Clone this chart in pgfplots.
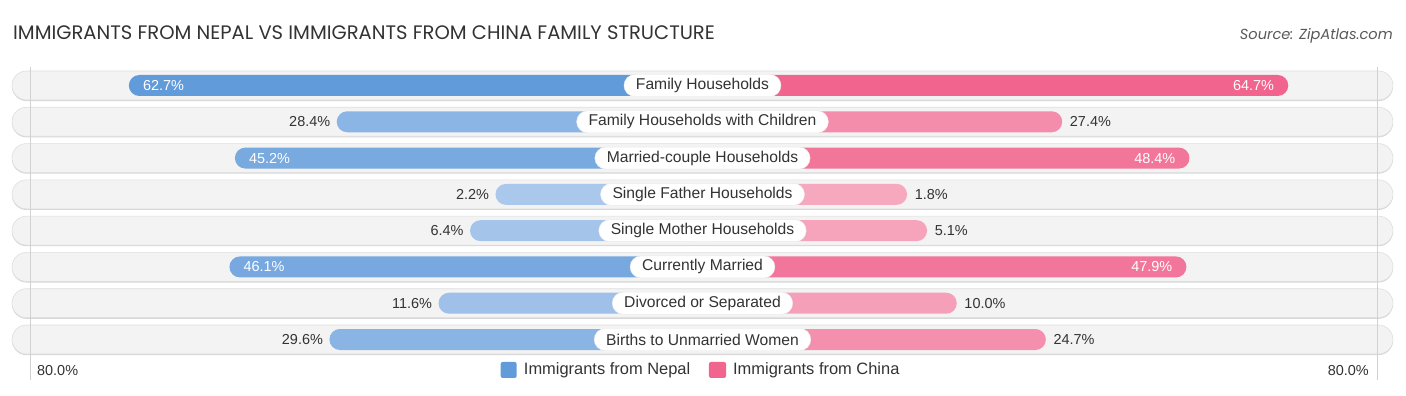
\documentclass[border=0pt]{standalone}
\usepackage{pgfplots}
\pgfplotsset{compat=1.18}
\usepackage{pgfplotstable}
\usepackage{fontspec}
\setmainfont{Liberation Sans}
\newfontfamily\titlefont{Poppins}

\definecolor{nepD}{RGB}{98,155,218}
\definecolor{nepL}{RGB}{172,201,236}
\definecolor{chiD}{RGB}{240,100,142}
\definecolor{chiL}{RGB}{246,170,192}
\colorlet{nep0}{nepD!100!nepL}
\colorlet{nep1}{nepD!44!nepL}
\colorlet{nep2}{nepD!70!nepL}
\colorlet{nep3}{nepD!3!nepL}
\colorlet{nep4}{nepD!10!nepL}
\colorlet{nep5}{nepD!71!nepL}
\colorlet{nep6}{nepD!18!nepL}
\colorlet{nep7}{nepD!46!nepL}
\colorlet{chi0}{chiD!100!chiL}
\colorlet{chi1}{chiD!42!chiL}
\colorlet{chi2}{chiD!75!chiL}
\colorlet{chi3}{chiD!3!chiL}
\colorlet{chi4}{chiD!8!chiL}
\colorlet{chi5}{chiD!74!chiL}
\colorlet{chi6}{chiD!15!chiL}
\colorlet{chi7}{chiD!38!chiL}
\definecolor{txt}{RGB}{51,51,51}
\definecolor{bgc}{RGB}{243,243,243}
\definecolor{bgline}{RGB}{222,222,222}
\definecolor{bgshadow}{RGB}{214,214,214}

\def\off{31.96}

\pgfplotstableread{
row v
0 62.7
1 28.4
2 45.2
3 2.2
4 6.4
5 46.1
6 11.6
7 29.6
}\nepal

\pgfplotstableread{
row v
0 64.7
1 27.4
2 48.4
3 1.8
4 5.1
5 47.9
6 10.0
7 24.7
}\china

\begin{document}
\begin{tikzpicture}[
  lbl/.style={fill=white, draw=black!8, rounded corners=11bp, inner xsep=12bp, inner ysep=0pt,
              minimum height=22bp, text=txt, font=\fontsize{15.7}{16}\selectfont},
  val/.style={text=txt, font=\fontsize{14.5}{15}\selectfont, inner sep=0pt},
  vin/.style={text=white, font=\fontsize{14.5}{15}\selectfont, inner sep=0pt}
]
\begin{axis}[
  hide axis,
  scale only axis,
  width=1406bp, height=395bp,
  xmin=-115.92, xmax=116.09,
  ymin=-2.356, ymax=8.5295,
  y dir=reverse,
  clip=false,
]
% full-size bounding box
\path (rel axis cs:0,0) rectangle (rel axis cs:1,1);
% row backgrounds
\pgfplotsinvokeforeach{0,...,7}{
  \fill[bgshadow, rounded corners=14.5bp] (axis cs:-113.94,#1-0.37) rectangle (axis cs:113.94,#1+0.43);
  \draw[fill=bgc, draw=bgline, line width=0.6bp, rounded corners=14.5bp] (axis cs:-113.94,#1-0.3996) rectangle (axis cs:113.94,#1+0.3996);
}
% faint guide lines at 80%
\draw[black!18, line width=0.8bp] (axis cs:-110.97,-0.5) -- (axis cs:-110.97,8.115);
\draw[black!18, line width=0.8bp] (axis cs:111.3,-0.5) -- (axis cs:111.3,8.115);

% bars
\pgfplotsinvokeforeach{0,...,7}{
  \addplot[xbar, bar width=21bp, bar shift=0pt, draw=none, fill=nep#1, rounded corners=10.5bp]
    table[x expr=-(\thisrow{v}+\off), y=row, restrict expr to domain={\coordindex}{#1:#1}] {\nepal};
  \addplot[xbar, bar width=21bp, bar shift=0pt, draw=none, fill=chi#1, rounded corners=10.5bp]
    table[x expr=\thisrow{v}+\off, y=row, restrict expr to domain={\coordindex}{#1:#1}] {\china};
}

% category labels
\node[lbl] at (axis cs:0,0) {Family Households};
\node[lbl] at (axis cs:0,1) {Family Households with Children};
\node[lbl] at (axis cs:0,2) {Married-couple Households};
\node[lbl] at (axis cs:0,3) {Single Father Households};
\node[lbl] at (axis cs:0,4) {Single Mother Households};
\node[lbl] at (axis cs:0,5) {Currently Married};
\node[lbl] at (axis cs:0,6) {Divorced or Separated};
\node[lbl] at (axis cs:0,7) {Births to Unmarried Women};

% Nepal value labels
\node[vin, anchor=west] at (axis cs:-92.35,0) {62.7\%};
\node[val, anchor=east] at (axis cs:-61.4,1) {28.4\%};
\node[vin, anchor=west] at (axis cs:-74.85,2) {45.2\%};
\node[val, anchor=east] at (axis cs:-35.2,3) {2.2\%};
\node[val, anchor=east] at (axis cs:-39.4,4) {6.4\%};
\node[vin, anchor=west] at (axis cs:-75.75,5) {46.1\%};
\node[val, anchor=east] at (axis cs:-44.6,6) {11.6\%};
\node[val, anchor=east] at (axis cs:-62.6,7) {29.6\%};
% China value labels
\node[vin, anchor=east] at (axis cs:94.35,0) {64.7\%};
\node[val, anchor=west] at (axis cs:60.6,1) {27.4\%};
\node[vin, anchor=east] at (axis cs:78.05,2) {48.4\%};
\node[val, anchor=west] at (axis cs:35.0,3) {1.8\%};
\node[val, anchor=west] at (axis cs:38.3,4) {5.1\%};
\node[vin, anchor=east] at (axis cs:77.55,5) {47.9\%};
\node[val, anchor=west] at (axis cs:43.2,6) {10.0\%};
\node[val, anchor=west] at (axis cs:57.9,7) {24.7\%};

% axis end labels
\node[val, anchor=west] at (axis cs:-109.82,7.867) {80.0\%};
\node[val, anchor=east] at (axis cs:109.98,7.867) {80.0\%};

% legend
\fill[nepD, rounded corners=2bp] (axis cs:-33.3,7.619) rectangle (axis cs:-30.66,8.06);
\node[val, anchor=west, font=\fontsize{16.5}{17}\selectfont] at (axis cs:-29.49,7.84) {Immigrants from Nepal};
\fill[chiD, rounded corners=2bp] (axis cs:1.07,7.619) rectangle (axis cs:3.88,8.06);
\node[val, anchor=west, font=\fontsize{16.5}{17}\selectfont] at (axis cs:5.03,7.84) {Immigrants from China};

% title and source
\node[anchor=base west, inner sep=0pt, text=txt, font=\titlefont\fontsize{19.6}{20}\selectfont] at (axis cs:-113.78,-1.254) {IMMIGRANTS FROM NEPAL VS IMMIGRANTS FROM CHINA FAMILY STRUCTURE};
\node[anchor=base east, inner sep=0pt, text=black!65, font=\titlefont\itshape\fontsize{14.6}{15}\selectfont] at (axis cs:113.94,-1.281) {Source: ZipAtlas.com};
\end{axis}
\end{tikzpicture}
\end{document}
